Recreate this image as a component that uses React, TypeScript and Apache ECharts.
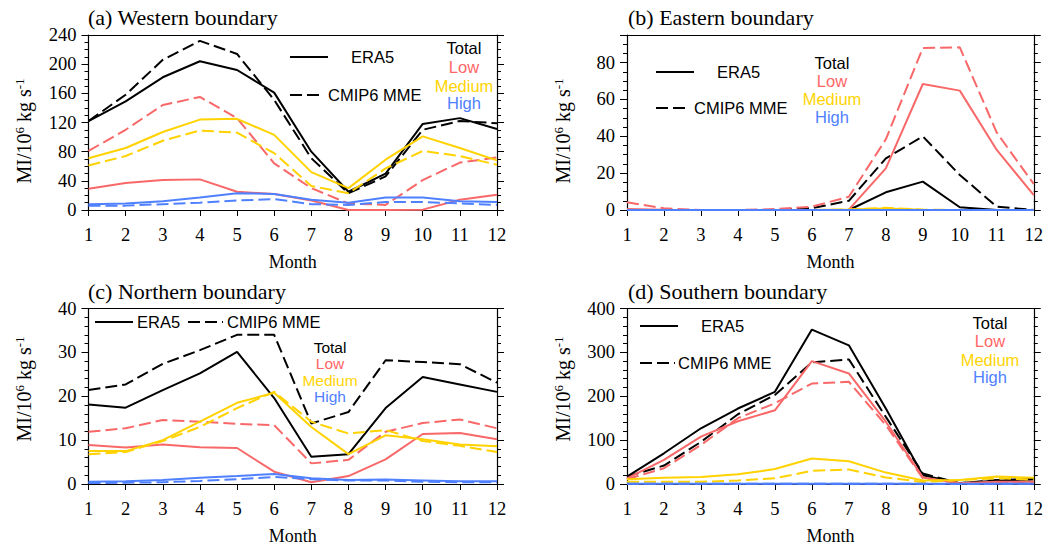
import React, { useEffect, useRef } from 'react';
import * as echarts from 'echarts';

const months = [1, 2, 3, 4, 5, 6, 7, 8, 9, 10, 11, 12];
const panelTitles = ['(a) Western boundary', '(b) Eastern boundary', '(c) Northern boundary', '(d) Southern boundary'];
const categoryNames = ['Total', 'Low', 'Medium', 'High'];
const sourceNames = ['ERA5', 'CMIP6 MME'];

// (a) Western boundary
const aTotalERA5 = [122, 149, 182, 204, 192, 161, 80, 25, 50, 118, 126, 111];
const aTotalCMIP = [122, 158, 206, 232, 214, 151, 71, 23, 46, 110, 122, 119];
const aLowERA5 = [29, 37, 41, 42, 25, 22, 13, 0, 0, 0.5, 14, 21];
const aLowCMIP = [81, 110, 144, 155, 126, 64, 30, 9, 7, 41, 65, 72];
const aMedERA5 = [71, 85, 107, 124, 125, 103, 52, 30, 69, 101, 85, 68];
const aMedCMIP = [61, 74, 95, 109, 106, 78, 33, 23, 57, 81, 74, 62];
const aHighERA5 = [8, 9, 12, 17, 23, 22, 14, 10, 17, 17, 12, 11];
const aHighCMIP = [6, 6, 8, 10, 13, 15, 8, 7, 11, 11, 9, 7];

// (b) Eastern boundary
const bTotalERA5 = [0, 0, 0, 0, 0, 0, 0, 9.6, 15.4, 1.5, 0, 0];
const bTotalCMIP = [0, 0, 0, 0, 0, 1, 5, 28, 40, 19, 1.8, 0];
const bLowERA5 = [0.5, 0.2, 0, 0, 0, 0, 0.2, 22.6, 68.4, 64.8, 32.6, 8.1];
const bLowCMIP = [4.2, 0.9, 0, 0, 0.5, 1.8, 7.2, 38.4, 88, 88.3, 42, 14.1];
const bMedERA5 = [0, 0, 0, 0, 0, 0, 0.3, 0.8, 0.1, 0, 0, 0];
const bMedCMIP = [0, 0, 0, 0, 0, 0, 0.3, 1.2, 0.2, 0, 0, 0];
const bHighERA5 = [0, 0, 0, 0, 0, 0, 0, 0, 0, 0, 0, 0];
const bHighCMIP = [0, 0, 0, 0, 0, 0, 0, 0, 0, 0, 0, 0];

// (c) Northern boundary
const cTotalERA5 = [18.1, 17.4, 21.4, 25.2, 30.1, 19.6, 6.2, 6.8, 17.3, 24.4, 22.7, 21];
const cTotalCMIP = [21.4, 22.7, 27.4, 30.5, 34, 34, 13.8, 16.4, 28.2, 27.8, 27.3, 23.1];
const cLowERA5 = [8.9, 8.3, 9, 8.4, 8.2, 2.8, 0.4, 1.8, 5.6, 11.4, 11.6, 10.2];
const cLowCMIP = [11.9, 12.7, 14.6, 14.2, 13.7, 13.4, 4.7, 5.5, 11.9, 13.9, 14.7, 12.7];
const cMedERA5 = [7.5, 7.5, 10, 14.2, 18.5, 20.8, 13, 6.8, 11.1, 10.2, 9, 8.6];
const cMedCMIP = [6.8, 7.3, 9.8, 13, 17.3, 21, 14.2, 11.5, 12.3, 9.8, 8.7, 7.3];
const cHighERA5 = [0.5, 0.6, 0.9, 1.4, 1.8, 2.3, 1.3, 0.9, 1, 0.8, 0.6, 0.6];
const cHighCMIP = [0.2, 0.3, 0.4, 0.7, 1.1, 1.6, 1.1, 0.8, 0.8, 0.5, 0.4, 0.4];

// (d) Southern boundary
const dTotalERA5 = [17, 70, 127, 172, 210, 352, 316, 172, 20, 2, 7.6, 11];
const dTotalCMIP = [17, 42, 96, 159, 203, 277, 284, 153, 24, 1.5, 9, 11];
const dLowERA5 = [13, 55, 108, 143, 168, 280, 252, 142, 15, 1.5, 5, 5];
const dLowCMIP = [11, 36, 89, 150, 184, 229, 233, 134, 13, 2, 4, 4];
const dMedERA5 = [11, 14, 16, 22, 34, 58, 52, 26, 8, 9, 17, 14];
const dMedCMIP = [5, 5, 5, 8, 13, 30, 33, 15, 4.5, 9, 13, 10];
const dHighERA5 = [0.4, 0.5, 0.5, 0.6, 0.7, 0.8, 0.7, 0.6, 0.4, 0.3, 0.4, 0.4];
const dHighCMIP = [0.3, 0.3, 0.4, 0.4, 0.5, 0.6, 0.5, 0.4, 0.3, 0.2, 0.3, 0.3];

const yMaxes = [240, 95, 40, 400];
const yIntervals = [40, 20, 10, 100];
const yMinorSplits = [4, 4, 5, 5];

const panelData = [
  [[aTotalERA5, aTotalCMIP], [aLowERA5, aLowCMIP], [aMedERA5, aMedCMIP], [aHighERA5, aHighCMIP]],
  [[bTotalERA5, bTotalCMIP], [bLowERA5, bLowCMIP], [bMedERA5, bMedCMIP], [bHighERA5, bHighCMIP]],
  [[cTotalERA5, cTotalCMIP], [cLowERA5, cLowCMIP], [cMedERA5, cMedCMIP], [cHighERA5, cHighCMIP]],
  [[dTotalERA5, dTotalCMIP], [dLowERA5, dLowCMIP], [dMedERA5, dMedCMIP], [dHighERA5, dHighCMIP]],
];

const lineColors = ['#000000', '#F96868', '#FFD200', '#4F80FF'];
const textColors = ['#000000', '#FF6666', '#FFD400', '#4F7FFF'];
const DASH = [12, 5];

const grids = [
  { left: 88.5, top: 35, width: 408.5, height: 175 },
  { left: 627, top: 35, width: 408, height: 175 },
  { left: 88.5, top: 308.5, width: 408.5, height: 175.5 },
  { left: 627, top: 308.5, width: 408, height: 175.5 },
];

// legend layout per panel (page px)
const legendLayout = [
  { solid: [290, 328, 57], solidText: [351, 57], dashed: [290, 324, 95], dashedText: [328, 95], catX: 464, catY: [48, 67, 86, 103], catSize: 16.5 },
  { solid: [656, 694, 72], solidText: [717, 72], dashed: [656, 690, 108], dashedText: [694, 108], catX: 832, catY: [63, 81, 99, 117], catSize: 16.5 },
  { solid: [95, 133, 322], solidText: [137, 322], dashed: [188, 223, 322], dashedText: [227, 322], catX: 330, catY: [347, 363.5, 380, 396.5], catSize: 15.5 },
  { solid: [640, 678, 326], solidText: [701, 326], dashed: [640, 675, 363], dashedText: [678, 363], catX: 990, catY: [323, 341, 360, 377], catSize: 16.5 },
];
const titlePos = [[88, 17], [628, 17], [88, 291], [628, 291]];
const yNamePos = [[24, 131], [563, 131], [24, 389], [563, 389]];

const SERIF = '"Liberation Serif", "Times New Roman", serif';
const SANS = '"Liberation Sans", Arial, sans-serif';

export default function App() {
  const ref = useRef<HTMLDivElement>(null);
  useEffect(() => {
    if (!ref.current) return;
    const chart = echarts.init(ref.current, null, { renderer: 'svg' });
    const axisLineStyle = { color: '#000', width: 1.2 };
    const xAxis: any[] = [];
    const yAxis: any[] = [];
    const series: any[] = [];
    const graphic: any[] = [];

    grids.forEach((g, i) => {
      xAxis.push({
        type: 'value', gridIndex: i, min: 1, max: 12, interval: 1, position: 'bottom',
        axisLine: { show: true, onZero: false, lineStyle: axisLineStyle },
        axisTick: { show: true, length: 6, lineStyle: { color: '#000', width: 1 } },
        axisLabel: { color: '#000', fontFamily: SERIF, fontSize: 18.5, margin: 15 },
        splitLine: { show: false },
        name: 'Month', nameLocation: 'middle', nameGap: 43,
        nameTextStyle: { color: '#000', fontFamily: SERIF, fontSize: 18 },
      });
      xAxis.push({
        type: 'value', gridIndex: i, min: 1, max: 12, interval: 1, position: 'top',
        axisLine: { show: true, onZero: false, lineStyle: axisLineStyle },
        axisTick: { show: false }, axisLabel: { show: false }, splitLine: { show: false },
      });
      const iv = yIntervals[i];
      const yBase = {
        type: 'value', gridIndex: i, min: 0, max: yMaxes[i], interval: iv,
        axisLine: { show: true, onZero: false, lineStyle: axisLineStyle },
        axisTick: { show: true, length: 7, inside: false, lineStyle: { color: '#000', width: 1 } },
        minorTick: { show: true, splitNumber: yMinorSplits[i], length: 4, lineStyle: { color: '#000', width: 1 } },
        splitLine: { show: false }, minorSplitLine: { show: false },
      };
      yAxis.push({
        ...yBase, position: 'left',
        axisLabel: {
          color: '#000', fontFamily: SERIF, fontSize: 18.5, margin: 12,
          formatter: (v: number) => (v % iv === 0 ? String(v) : ''),
        },
      });
      yAxis.push({ ...yBase, position: 'right', axisLabel: { show: false } });

      panelData[i].forEach((pair, c) => {
        pair.forEach((vals, s) => {
          series.push({
            type: 'line', name: `${categoryNames[c]} ${sourceNames[s]}`,
            xAxisIndex: 2 * i, yAxisIndex: 2 * i,
            data: months.map((m, k) => [m, vals[k]]),
            showSymbol: false, symbol: 'none', clip: false,
            lineStyle: { color: lineColors[c], width: 2, type: s === 0 ? 'solid' : DASH },
            z: 2 + c,
          });
        });
      });

      graphic.push({
        type: 'text', x: titlePos[i][0], y: titlePos[i][1],
        style: { text: panelTitles[i], fill: '#000', fontFamily: SERIF, fontSize: 22, align: 'left', verticalAlign: 'middle' },
      });
      graphic.push({
        type: 'text', x: yNamePos[i][0], y: yNamePos[i][1], rotation: Math.PI / 2,
        style: {
          text: '{a|MI/10}{s|6}{a| kg s}{s|-1}',
          align: 'center', verticalAlign: 'middle',
          rich: {
            a: { fontFamily: SERIF, fontSize: 20, fill: '#000', color: '#000' },
            s: { fontFamily: SERIF, fontSize: 13, fill: '#000', color: '#000', padding: [0, 0, 10, 0] },
          },
        },
      });
      const L = legendLayout[i];
      graphic.push({
        type: 'line', shape: { x1: L.solid[0], y1: L.solid[2], x2: L.solid[1], y2: L.solid[2] },
        style: { stroke: '#000', lineWidth: 2 },
      });
      graphic.push({
        type: 'text', x: L.solidText[0], y: L.solidText[1],
        style: { text: sourceNames[0], fill: '#000', fontFamily: SANS, fontSize: 16.5, align: 'left', verticalAlign: 'middle' },
      });
      graphic.push({
        type: 'line', shape: { x1: L.dashed[0], y1: L.dashed[2], x2: L.dashed[1], y2: L.dashed[2] },
        style: { stroke: '#000', lineWidth: 2, lineDash: DASH },
      });
      graphic.push({
        type: 'text', x: L.dashedText[0], y: L.dashedText[1],
        style: { text: sourceNames[1], fill: '#000', fontFamily: SANS, fontSize: 16.5, align: 'left', verticalAlign: 'middle' },
      });
      categoryNames.forEach((nm, c) => {
        graphic.push({
          type: 'text', x: L.catX, y: L.catY[c],
          style: { text: nm, fill: textColors[c], fontFamily: SANS, fontSize: L.catSize, align: 'center', verticalAlign: 'middle' },
        });
      });
    });

    chart.setOption({
      animation: false,
      backgroundColor: '#fff',
      grid: grids.map((g) => ({ ...g, containLabel: false })),
      xAxis, yAxis, series, graphic,
    });
    return () => chart.dispose();
  }, []);
  return <div ref={ref} style={{ position: 'absolute', left: 0, top: 0, width: 1046, height: 547 }} />;
}
